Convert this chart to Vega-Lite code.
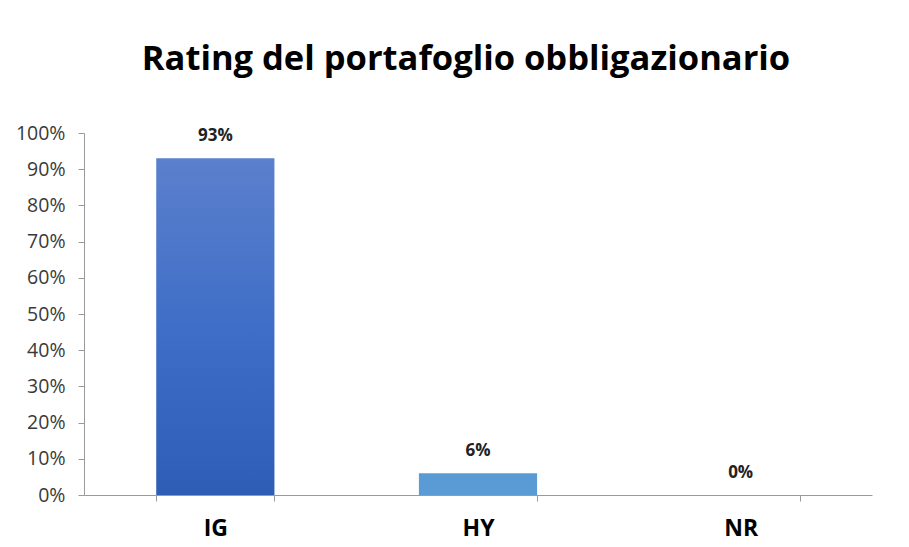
{
  "$schema": "https://vega.github.io/schema/vega-lite/v6.json",
  "width": 788,
  "height": 362,
  "autosize": {"type": "none"},
  "padding": {"left": 84, "top": 133, "right": 37, "bottom": 52},
  "background": "white",
  "title": {
    "text": "Rating del portafoglio obbligazionario",
    "font": "Open Sans",
    "fontSize": 34.5,
    "fontWeight": "bold",
    "color": "#000000",
    "anchor": "middle",
    "offset": 46,
    "dx": -12
  },
  "data": {
    "values": [
      {"rating": "IG", "value": 0.93},
      {"rating": "HY", "value": 0.06},
      {"rating": "NR", "value": 0.0}
    ]
  },
  "encoding": {
    "x": {
      "field": "rating",
      "type": "nominal",
      "sort": ["IG", "HY", "NR"],
      "scale": {"paddingInner": 0.55, "paddingOuter": 0.275},
      "axis": {
        "title": null,
        "labelAngle": 0,
        "labelFont": "Open Sans",
        "labelFontSize": 23,
        "labelFontWeight": "bold",
        "labelColor": "#000000",
        "labelPadding": 16,
        "domainColor": "#9a9a9a",
        "tickColor": "#9a9a9a",
        "tickBand": "extent",
        "tickSize": 6
      }
    },
    "y": {
      "field": "value",
      "type": "quantitative",
      "scale": {"domain": [0, 1], "nice": false},
      "axis": {
        "title": null,
        "format": ".0%",
        "values": [0, 0.1, 0.2, 0.3, 0.4, 0.5, 0.6, 0.7, 0.8, 0.9, 1.0],
        "grid": false,
        "labelFont": "Open Sans",
        "labelFontSize": 19.5,
        "labelColor": "#3a3a3a",
        "labelPadding": 13,
        "domainColor": "#9a9a9a",
        "tickColor": "#9a9a9a",
        "tickSize": 6
      }
    }
  },
  "layer": [
    {
      "transform": [{"filter": "datum.rating === 'IG'"}],
      "mark": {
        "type": "bar",
        "color": {
          "gradient": "linear",
          "x1": 0, "y1": 0, "x2": 0, "y2": 1,
          "stops": [
            {"offset": 0, "color": "#5b80cc"},
            {"offset": 0.5, "color": "#3f6ec8"},
            {"offset": 1, "color": "#2d5db5"}
          ]
        }
      }
    },
    {
      "transform": [{"filter": "datum.rating === 'HY'"}],
      "mark": {"type": "bar", "color": "#5b9bd5"}
    },
    {
      "mark": {
        "type": "text",
        "baseline": "bottom",
        "dy": -13,
        "font": "Open Sans",
        "fontSize": 17,
        "fontWeight": "bold",
        "color": "#222222"
      },
      "encoding": {
        "text": {"field": "value", "type": "quantitative", "format": ".0%"}
      }
    }
  ],
  "config": {"view": {"stroke": null}}
}
